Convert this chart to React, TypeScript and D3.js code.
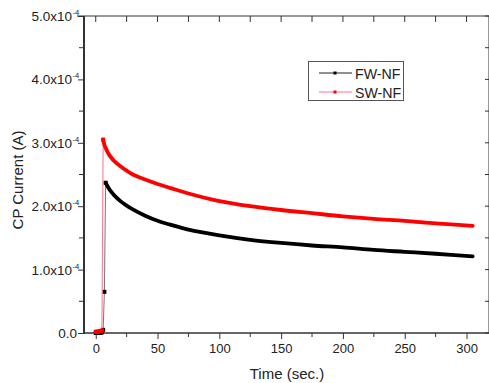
import React, { useEffect, useRef } from 'react';
import * as d3 from 'd3';

// values, current in units of 1e-4 A
const fwTime = [0, 1, 2, 3, 4, 5, 6, 7, 8, 10, 12, 15, 20, 25, 30, 40, 50, 60, 75, 100, 125, 150, 175, 200, 225, 250, 275, 305];
const fwCurrent = [0.0, 0.0, 0.0, 0.0, 0.0, 0.01, 0.05, 0.65, 2.37, 2.30, 2.24, 2.17, 2.08, 2.01, 1.95, 1.85, 1.77, 1.71, 1.63, 1.54, 1.47, 1.42, 1.38, 1.35, 1.31, 1.28, 1.25, 1.21];
const swTime = [0, 1, 2, 3, 4, 5, 6, 7, 8, 10, 12, 15, 20, 25, 30, 40, 50, 60, 75, 100, 125, 150, 175, 200, 225, 250, 275, 305];
const swCurrent = [0.02, 0.02, 0.02, 0.03, 0.03, 0.04, 3.05, 2.97, 2.92, 2.84, 2.78, 2.71, 2.63, 2.56, 2.50, 2.42, 2.35, 2.29, 2.20, 2.08, 2.00, 1.94, 1.89, 1.84, 1.80, 1.77, 1.73, 1.69];

const xTicks = [0, 50, 100, 150, 200, 250, 300];
const xMinor = [25, 75, 125, 175, 225, 275];
const yTicks = [0, 1, 2, 3, 4, 5];
const yMinor = [0.5, 1.5, 2.5, 3.5, 4.5];

const series = [
  { name: 'FW-NF', t: fwTime, v: fwCurrent, color: '#000000', thin: '#777777', legendLine: '#222222', peak: 8 },
  { name: 'SW-NF', t: swTime, v: swCurrent, color: '#ff0000', thin: '#ff7090', legendLine: '#ff7090', peak: 6 },
];

export default function App() {
  const ref = useRef<SVGSVGElement>(null);

  useEffect(() => {
    const svg = d3.select(ref.current);
    svg.selectAll('*').remove();
    const font = '"Liberation Sans", Arial, sans-serif';

    const x = d3.scaleLinear().domain([-9.5, 319]).range([84, 490]);
    const y = d3.scaleLinear().domain([0, 5]).range([333, 16]);

    // frame: top & right thin
    svg.append('line').attr('x1', 77).attr('x2', 490).attr('y1', 16).attr('y2', 16).attr('stroke', '#333').attr('stroke-width', 1);
    svg.append('line').attr('x1', 489).attr('x2', 489).attr('y1', 16).attr('y2', 333).attr('stroke', '#333').attr('stroke-width', 1);

    // top ticks (inward)
    [...xTicks, ...xMinor].forEach((t) => {
      svg.append('line').attr('x1', x(t)).attr('x2', x(t)).attr('y1', 16).attr('y2', 22).attr('stroke', '#333');
    });
    // right ticks (inward)
    [...yTicks, ...yMinor].forEach((v) => {
      svg.append('line').attr('x1', 489).attr('x2', 485).attr('y1', y(v)).attr('y2', y(v)).attr('stroke', '#333');
    });

    // bottom axis
    const xAxis = svg.append('g').attr('transform', 'translate(0,333)')
      .call(d3.axisBottom(x).tickValues(xTicks).tickSize(6).tickPadding(5).tickFormat(d3.format('d')));
    xAxis.select('.domain').remove();
    xAxis.selectAll('text').attr('font-family', font).attr('font-size', 13).attr('fill', '#222');
    xAxis.selectAll('line').attr('stroke', '#333');
    xMinor.forEach((t) => {
      svg.append('line').attr('x1', x(t)).attr('x2', x(t)).attr('y1', 333).attr('y2', 337).attr('stroke', '#333');
    });
    svg.append('line').attr('x1', 83).attr('x2', 490).attr('y1', 333).attr('y2', 333).attr('stroke', '#333').attr('stroke-width', 1.6);

    // left axis
    const yAxis = svg.append('g').attr('transform', 'translate(84,0)')
      .call(d3.axisLeft(y).tickValues(yTicks).tickSize(6).tickPadding(3).tickFormat(() => ''));
    yAxis.select('.domain').remove();
    yAxis.selectAll('line').attr('stroke', '#333');
    yMinor.forEach((v) => {
      svg.append('line').attr('x1', 84).attr('x2', 79).attr('y1', y(v)).attr('y2', y(v)).attr('stroke', '#333');
    });
    svg.append('line').attr('x1', 84).attr('x2', 84).attr('y1', 16).attr('y2', 334).attr('stroke', '#333').attr('stroke-width', 2);

    yTicks.forEach((v) => {
      const txt = svg.append('text').attr('x', v === 0 ? 77 : 72).attr('y', y(v) + 5)
        .attr('text-anchor', 'end').attr('font-family', font).attr('font-size', 13.5).attr('fill', '#222');
      if (v === 0) {
        txt.text('0.0');
      } else {
        txt.text(`${v.toFixed(1)}x10`);
        svg.append('text').attr('x', 72.5).attr('y', y(v) - 1).attr('font-family', font).attr('font-size', 7.5).attr('fill', '#222').text('-4');
      }
    });

    // axis titles
    svg.append('text').attr('x', 287).attr('y', 379).attr('text-anchor', 'middle')
      .attr('font-family', font).attr('font-size', 15).attr('fill', '#222').text('Time (sec.)');
    svg.append('text').attr('transform', 'translate(23,180) rotate(-90)').attr('text-anchor', 'middle')
      .attr('font-family', font).attr('font-size', 15).attr('fill', '#222').text('CP Current (A)');

    // data: thin connecting line, thick decay (dense markers in the original), squares on the rise
    series.forEach((s) => {
      const pts: [number, number][] = s.t.map((t, i) => [x(t), y(s.v[i])]);
      svg.append('path').attr('d', d3.line()(pts)).attr('fill', 'none').attr('stroke', s.thin).attr('stroke-width', 1);
      const decay = pts.filter((p, i) => s.t[i] >= s.peak);
      const thick = d3.line().curve(d3.curveCatmullRom.alpha(0.5));
      svg.append('path').attr('d', thick(decay)).attr('fill', 'none').attr('stroke', s.color)
        .attr('stroke-width', 3.8).attr('stroke-linecap', 'round');
      pts.filter((p, i) => s.t[i] <= s.peak).forEach((p) => {
        svg.append('rect').attr('x', p[0] - 2).attr('y', p[1] - 2).attr('width', 4).attr('height', 4).attr('fill', s.color);
      });
    });

    // legend
    svg.append('rect').attr('x', 308.5).attr('y', 61.5).attr('width', 95).attr('height', 39)
      .attr('fill', 'white').attr('stroke', '#555').attr('stroke-width', 1);
    series.forEach((s, i) => {
      const ly = 73 + i * 19;
      svg.append('line').attr('x1', 319).attr('x2', 352).attr('y1', ly).attr('y2', ly).attr('stroke', s.legendLine).attr('stroke-width', 1);
      svg.append('rect').attr('x', 333.5).attr('y', ly - 1.5).attr('width', 3).attr('height', 3).attr('fill', s.color);
      svg.append('text').attr('x', 355).attr('y', ly + 5.5).attr('font-family', font).attr('font-size', 14.2).attr('fill', '#222').text(s.name);
    });
  }, []);

  return (
    <svg ref={ref} width={489} height={383} style={{ position: 'absolute', left: 0, top: 0, background: 'white' }} />
  );
}
